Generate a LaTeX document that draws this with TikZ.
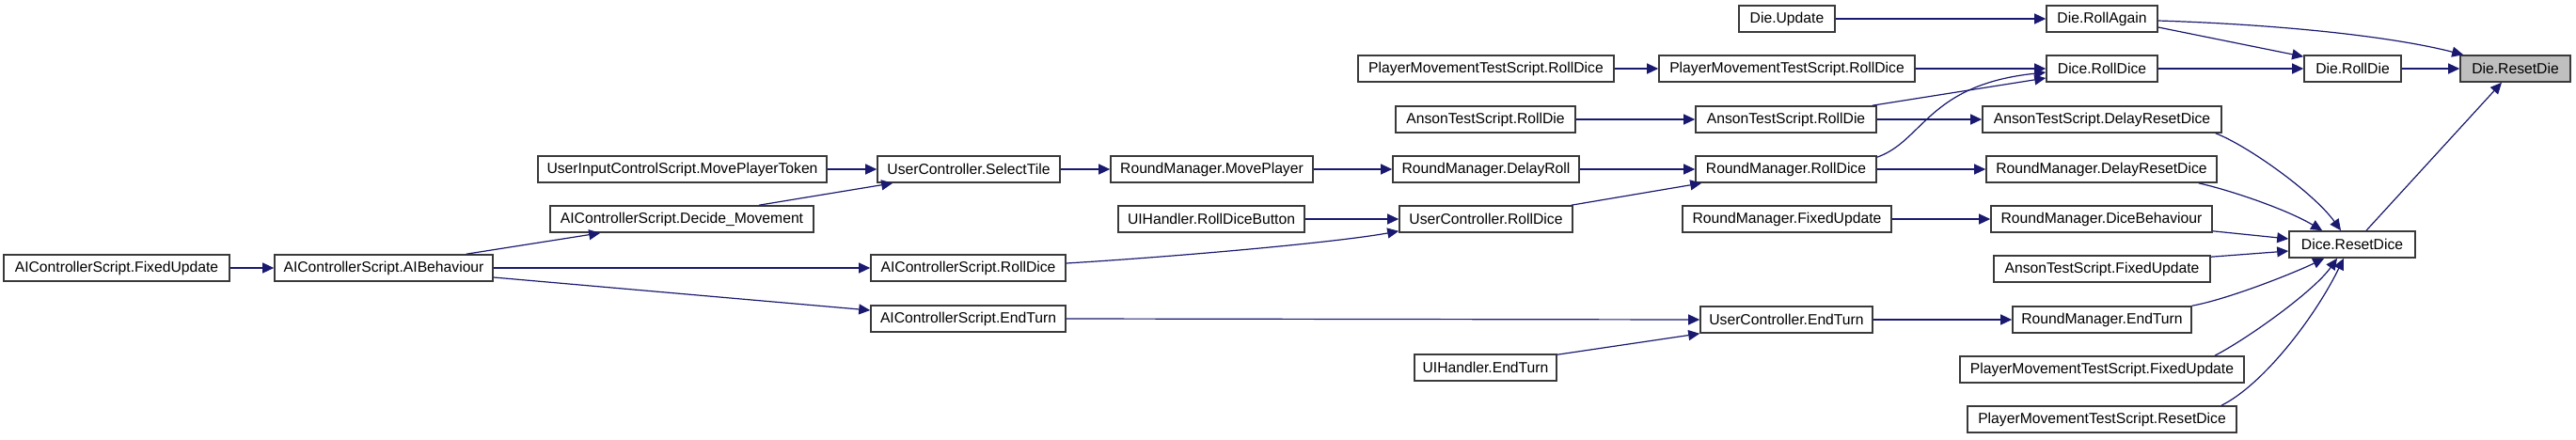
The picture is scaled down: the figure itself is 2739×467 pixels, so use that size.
\documentclass[tikz,border=0pt]{standalone}
\usepackage{fontspec}
\setmainfont{Liberation Sans}
\usetikzlibrary{arrows.meta}
\definecolor{edgeblue}{HTML}{191970}
\definecolor{rootfill}{HTML}{BFBFBF}
\definecolor{boxdraw}{HTML}{3A3A3A}
\begin{document}
\begin{tikzpicture}[x=1pt,y=-1pt,
  fn/.style={draw=boxdraw, line width=1.6pt, fill=white, inner sep=0pt,
    minimum height=28pt, font=\fontsize{15.7}{18}\selectfont},
  root/.style={fn, fill=rootfill},
  call/.style={draw=edgeblue, line width=1.2pt, -{Triangle[length=12pt,width=11pt]}}]
\useasboundingbox (0,0) rectangle (2739,467);
% nodes
\node[root, minimum width=117pt] (resetdie) at (2674.5,73) {Die.ResetDie};
\node[fn, minimum width=103pt] (rolldie) at (2501.5,73) {Die.RollDie};
\node[fn, minimum width=118pt] (rollagain) at (2235,20) {Die.RollAgain};
\node[fn, minimum width=102pt] (dieupdate) at (1900,20) {Die.Update};
\node[fn, minimum width=118pt] (dicerolldice) at (2235,73) {Dice.RollDice};
\node[fn, minimum width=272pt] (pmtsroll2) at (1900,73) {PlayerMovementTestScript.RollDice};
\node[fn, minimum width=272pt] (pmtsroll1) at (1580,73) {PlayerMovementTestScript.RollDice};
\node[fn, minimum width=192pt] (anson2) at (1899,127) {AnsonTestScript.RollDie};
\node[fn, minimum width=191pt] (anson1) at (1579.5,127) {AnsonTestScript.RollDie};
\node[fn, minimum width=254pt] (ansondelay) at (2235,127) {AnsonTestScript.DelayResetDice};
\node[fn, minimum width=198pt] (rmdelayroll) at (1580,180) {RoundManager.DelayRoll};
\node[fn, minimum width=192pt] (rmrolldice) at (1899,180) {RoundManager.RollDice};
\node[fn, minimum width=245pt] (rmdelayreset) at (2234.5,180) {RoundManager.DelayResetDice};
\node[fn, minimum width=184pt] (ucrolldice) at (1580,233) {UserController.RollDice};
\node[fn, minimum width=222pt] (rmfixed) at (1900,233) {RoundManager.FixedUpdate};
\node[fn, minimum width=235pt] (rmdicebeh) at (2234.5,233) {RoundManager.DiceBehaviour};
\node[fn, minimum width=134pt] (diceresetdice) at (2501,260) {Dice.ResetDice};
\node[fn, minimum width=230pt] (ansonfixed) at (2235,286) {AnsonTestScript.FixedUpdate};
\node[fn, minimum width=183pt] (ucendturn) at (1899.5,340) {UserController.EndTurn};
\node[fn, minimum width=190pt] (rmendturn) at (2235,340) {RoundManager.EndTurn};
\node[fn, minimum width=151pt] (uiendturn) at (1579.5,391) {UIHandler.EndTurn};
\node[fn, minimum width=302pt] (pmtsfixed) at (2235,393) {PlayerMovementTestScript.FixedUpdate};
\node[fn, minimum width=286pt] (pmtsreset) at (2235,446) {PlayerMovementTestScript.ResetDice};
\node[fn, minimum width=307pt] (uimovetoken) at (725.5,180) {UserInputControlScript.MovePlayerToken};
\node[fn, minimum width=194pt] (ucselecttile) at (1030,180) {UserController.SelectTile};
\node[fn, minimum width=215pt] (rmmoveplayer) at (1288.5,180) {RoundManager.MovePlayer};
\node[fn, minimum width=198pt] (uirolldicebutton) at (1288,233) {UIHandler.RollDiceButton};
\node[fn, minimum width=280pt] (aidecide) at (725,233) {AIControllerScript.Decide\_Movement};
\node[fn, minimum width=207pt] (airolldice) at (1029.5,285) {AIControllerScript.RollDice};
\node[fn, minimum width=207pt] (aiendturn) at (1029.5,339) {AIControllerScript.EndTurn};
\node[fn, minimum width=232pt] (aibehaviour) at (408,285) {AIControllerScript.AIBehaviour};
\node[fn, minimum width=240pt] (aifixed) at (124,285) {AIControllerScript.FixedUpdate};
% edges
\draw[call] ([yshift=-2pt]rollagain.east) .. controls (2420,26) and (2540,38) .. ([xshift=4pt]resetdie.north west);
\draw[call] ([yshift=-9pt]rollagain.east) -- ([yshift=-2pt]rolldie.north west);
\draw[call] (rolldie.east) -- (resetdie.west);
\draw[call] (dicerolldice.east) -- (rolldie.west);
\draw[call] (dieupdate.east) -- (rollagain.west);
\draw[call] ([xshift=15pt]diceresetdice.north) -- ([xshift=-14.5pt]resetdie.south);
\draw[call] (pmtsroll1.east) -- (pmtsroll2.west);
\draw[call] (pmtsroll2.east) -- (dicerolldice.west);
\draw[call] ([xshift=-5pt]anson2.north east) -- ([yshift=-10pt]dicerolldice.west);
\draw[call] ([yshift=-2pt]rmrolldice.north east) .. controls (2045,150) and (2050,90) .. ([yshift=-4pt]dicerolldice.west);
\draw[call] (anson1.east) -- (anson2.west);
\draw[call] (anson2.east) -- (ansondelay.west);
\draw[call] ([xshift=-7pt]ansondelay.south east) .. controls (2390,155) and (2460,205) .. ([xshift=-12pt]diceresetdice.north);
\draw[call] (rmdelayroll.east) -- (rmrolldice.west);
\draw[call] (rmmoveplayer.east) -- (rmdelayroll.west);
\draw[call] (ucselecttile.east) -- (rmmoveplayer.west);
\draw[call] (uimovetoken.east) -- (ucselecttile.west);
\draw[call] ([xshift=82pt]aidecide.north) -- ([xshift=17pt]ucselecttile.south west);
\draw[call] ([xshift=-29pt]aibehaviour.north east) -- ([xshift=54pt]aidecide.south west);
\draw[call] (aifixed.east) -- (aibehaviour.west);
\draw[call] (aibehaviour.east) -- (airolldice.west);
\draw[call] ([yshift=-10pt]aibehaviour.east) -- ([yshift=9pt]aiendturn.west);
\draw[call] (rmrolldice.east) -- (rmdelayreset.west);
\draw[call] ([xshift=-20pt]rmdelayreset.south east) .. controls (2370,202) and (2430,222) .. ([xshift=36pt]diceresetdice.north west);
\draw[call] ([xshift=-2pt]ucrolldice.north east) -- ([xshift=7pt]rmrolldice.south west);
\draw[call] (uirolldicebutton.east) -- (ucrolldice.west);
\draw[call] ([yshift=5pt]airolldice.east) .. controls (1250,273) and (1420,258) .. ([yshift=2pt]ucrolldice.south west);
\draw[call] (rmfixed.east) -- (rmdicebeh.west);
\draw[call] ([yshift=2pt]rmdicebeh.south east) -- ([yshift=6pt]diceresetdice.west);
\draw[call] ([yshift=-2pt]ansonfixed.north east) -- ([yshift=-7pt]diceresetdice.west);
\draw[call] (aiendturn.east) -- (ucendturn.west);
\draw[call] ([yshift=-1pt]uiendturn.north east) -- (ucendturn.south west);
\draw[call] (ucendturn.east) -- (rmendturn.west);
\draw[call] (rmendturn.north east) .. controls (2370,318) and (2440,290) .. ([xshift=38pt]diceresetdice.south west);
\draw[call] ([xshift=120pt]pmtsfixed.north) .. controls (2390,360) and (2460,310) .. ([xshift=-16pt]diceresetdice.south);
\draw[call] ([xshift=127pt]pmtsreset.north) .. controls (2405,410) and (2460,340) .. ([xshift=-9pt]diceresetdice.south);
\end{tikzpicture}
\end{document}
